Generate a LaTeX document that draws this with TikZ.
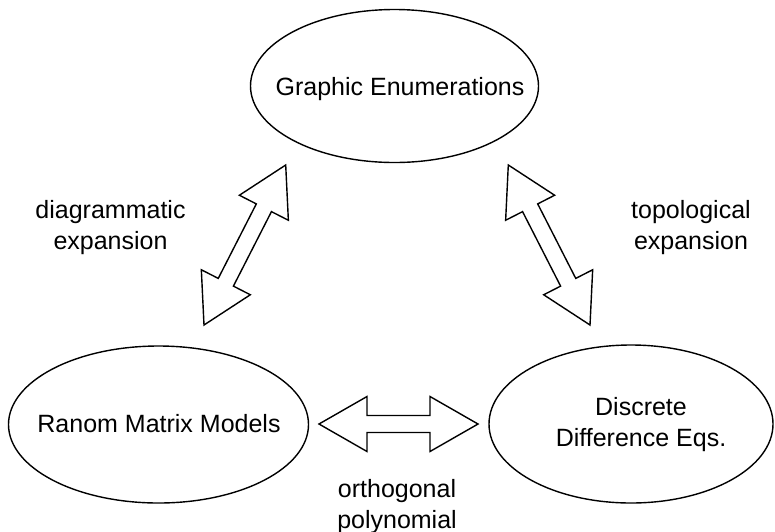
\documentclass[tikz,border=0pt]{standalone}
\usepackage{fontspec}
\setmainfont{Liberation Sans}
\usetikzlibrary{shapes.geometric,calc}
\tikzset{
  bubble/.style={draw=black, line width=1.4pt, ellipse, inner sep=0pt, fill=white},
  txt/.style={align=center, inner sep=0pt, font=\fontsize{25}{31}\selectfont},
  blockarrow/.style={draw=black, line width=1.4pt, fill=white, line join=miter}
}
\newcommand\dblarrow[2]{%
  \draw[blockarrow] (#1)
    -- ($(#1)!48pt!(#2)!27.5pt!90:(#2)$)
    -- ($(#1)!48pt!(#2)!8.5pt!90:(#2)$)
    -- ($(#2)!48pt!(#1)!8.5pt!-90:(#1)$)
    -- ($(#2)!48pt!(#1)!27.5pt!-90:(#1)$)
    -- (#2)
    -- ($(#2)!48pt!(#1)!27.5pt!90:(#1)$)
    -- ($(#2)!48pt!(#1)!8.5pt!90:(#1)$)
    -- ($(#1)!48pt!(#2)!8.5pt!-90:(#2)$)
    -- ($(#1)!48pt!(#2)!27.5pt!-90:(#2)$)
    -- cycle;}
\begin{document}
\begin{tikzpicture}[x=1pt,y=-1pt]
\useasboundingbox (0,0) rectangle (775,531);
% ellipses
\node[bubble, minimum width=288pt, minimum height=153pt] (ge) at (394.5,86) {};
\node[bubble, minimum width=300pt, minimum height=157pt] (rm) at (158.5,424.5) {};
\node[bubble, minimum width=284pt, minimum height=158pt] (dd) at (631,424) {};
% texts
\node[txt] (get) at (400,89) {Graphic Enumerations};
\node[txt] (rmt) at (159,424) {Ranom Matrix Models};
\node[txt] (ddt) at (641,425) {Discrete\\Difference Eqs.};
\node[txt] (l1) at (110.5,228) {diagrammatic\\expansion};
\node[txt] (l2) at (691,228) {topological\\expansion};
\node[txt] (l3) at (397,507) {orthogonal\\polynomial};
% arrow end points
\coordinate (a1) at (285.7,165);
\coordinate (a2) at (204,325);
\coordinate (b1) at (508.3,165);
\coordinate (b2) at (590,325);
\coordinate (c1) at (319,424);
\coordinate (c2) at (478,424);
\dblarrow{a1}{a2}
\dblarrow{b1}{b2}
\dblarrow{c1}{c2}
\end{tikzpicture}
\end{document}
